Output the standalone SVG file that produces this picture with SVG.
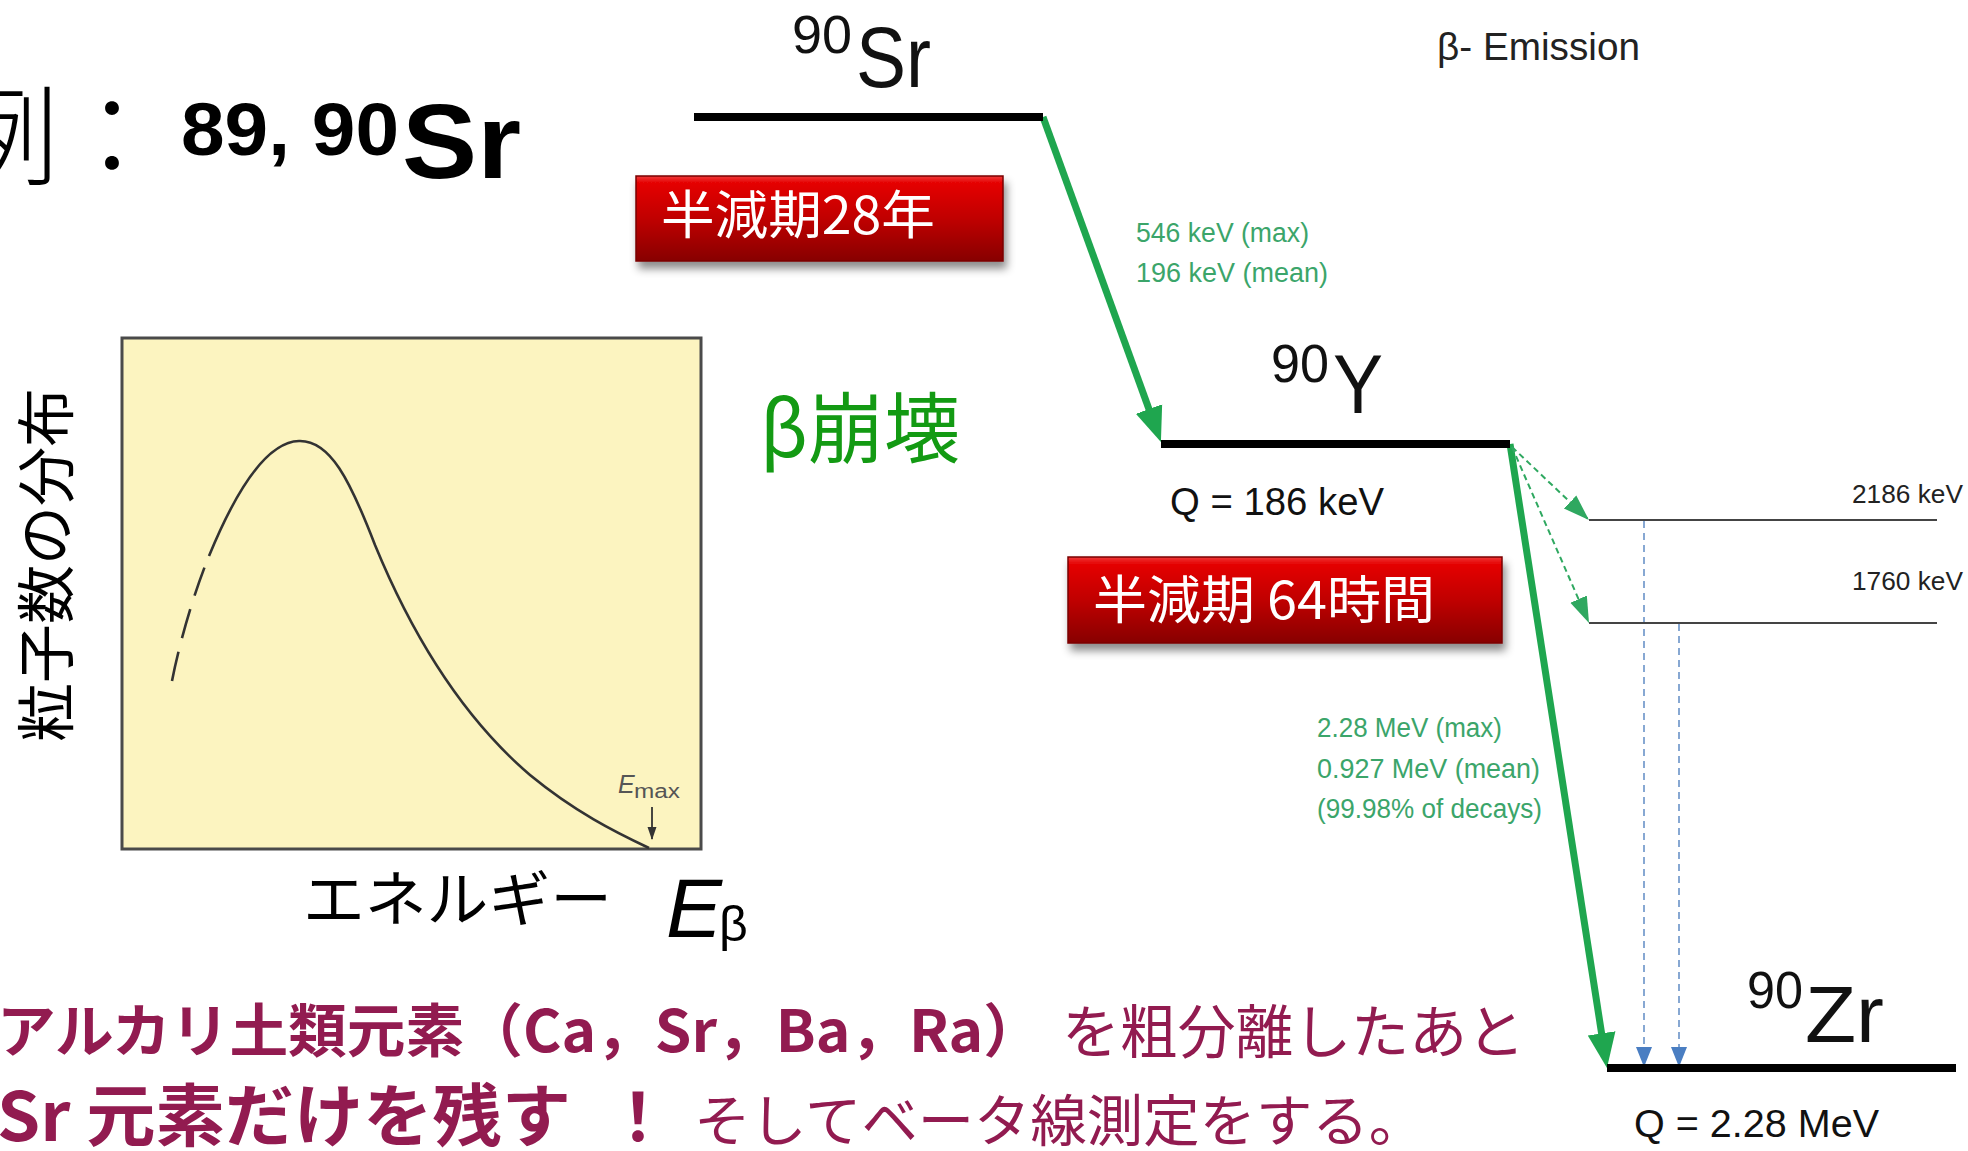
<svg xmlns="http://www.w3.org/2000/svg" width="1968" height="1151" viewBox="0 0 1968 1151">
<defs>
<style>
.cjk{font-family:"Noto Sans CJK JP","Noto Sans",sans-serif;}
.lat{font-family:"Liberation Sans","DejaVu Sans",sans-serif;}
.lvl{stroke:#000;stroke-width:8;fill:none;}
.thin{stroke:#444;stroke-width:2;fill:none;}
.beta{stroke:#1fa64f;stroke-width:7;fill:none;}
.gdash{stroke:#2fa860;stroke-width:2;stroke-dasharray:6 4;fill:none;}
.bdash{stroke:#6a93c8;stroke-width:1.6;stroke-dasharray:7 5;fill:none;}
.glab{fill:#3ba56a;font-size:27px;}
.plum{fill:#921b50;}
.redtxt{fill:#fff;font-size:52px;}
</style>
<linearGradient id="redg" x1="0" y1="0" x2="0" y2="1">
<stop offset="0" stop-color="#f03a3a"/>
<stop offset="0.08" stop-color="#e50404"/>
<stop offset="0.5" stop-color="#c00000"/>
<stop offset="1" stop-color="#870000"/>
</linearGradient>
<filter id="sh" x="-10%" y="-20%" width="125%" height="160%">
<feDropShadow dx="3" dy="7" stdDeviation="4" flood-color="#000" flood-opacity="0.45"/>
</filter>
<marker id="mBig" markerUnits="userSpaceOnUse" markerWidth="40" markerHeight="36" refX="15" refY="16" orient="auto" viewBox="0 0 40 32">
<path d="M0,2 L35,16 L0,30 z" fill="#1fa64f"/>
</marker>
<marker id="mSmallG" markerUnits="userSpaceOnUse" markerWidth="28" markerHeight="20" refX="24" refY="9" orient="auto" viewBox="0 0 28 18">
<path d="M0,0 L26,9 L0,18 z" fill="#2fa860"/>
</marker>
<marker id="mBlue" markerUnits="userSpaceOnUse" markerWidth="22" markerHeight="18" refX="18" refY="8" orient="auto" viewBox="0 0 22 16">
<path d="M0,0 L20,8 L0,16 z" fill="#4a7ec2"/>
</marker>
<marker id="mTiny" markerUnits="userSpaceOnUse" markerWidth="14" markerHeight="10" refX="12" refY="4.5" orient="auto" viewBox="0 0 14 9">
<path d="M0,0 L13,4.5 L0,9 z" fill="#333"/>
</marker>
</defs>
<rect width="1968" height="1151" fill="#fff"/>

<!-- Title -->
<g id="title">
<text class="cjk" x="-50" y="176" font-size="108" font-weight="300" fill="#000">例：</text>
<text class="lat" x="181" y="155" font-size="75" font-weight="bold" fill="#000" textLength="218" lengthAdjust="spacingAndGlyphs">89, 90</text>
<text class="lat" x="402" y="178" font-size="106" font-weight="900" fill="#000" textLength="119" lengthAdjust="spacingAndGlyphs">Sr</text>
</g>

<!-- Spectrum plot -->
<g id="spectrum">
<rect x="122" y="338" width="579" height="511" fill="#fcf4c0" stroke="#4a4a4a" stroke-width="3"/>
<path d="M172,681 C180,640 195,590 209,556" fill="none" stroke="#333" stroke-width="2.6" stroke-dasharray="30 14"/>
<path d="M209,556 C230,505 262,442 299,441 C330,440 350,480 375,545 C410,630 460,715 530,775 C575,812 615,832 649,848" fill="none" stroke="#333" stroke-width="2.6"/>
<text x="618" y="793" font-family="Liberation Sans, sans-serif" font-style="italic" font-size="25" fill="#555">E</text>
<text x="634" y="798" font-family="Liberation Sans, sans-serif" font-size="20" fill="#555" textLength="46" lengthAdjust="spacingAndGlyphs">max</text>
<line x1="652" y1="807" x2="652" y2="839" stroke="#333" stroke-width="1.8" marker-end="url(#mTiny)"/>
</g>

<g id="ylabel">
<text class="cjk" transform="translate(68,742) rotate(-90)" font-size="59" fill="#000" textLength="354" lengthAdjust="spacingAndGlyphs">粒子数の分布</text>
</g>
<g id="xlabel">
<text class="cjk" x="303" y="921" font-size="60" fill="#000" textLength="309" lengthAdjust="spacingAndGlyphs">エネルギー</text>
<text x="666" y="937" font-family="Liberation Sans, sans-serif" font-style="italic" font-size="84" fill="#000">E</text>
<text x="719" y="941" font-family="Liberation Sans, sans-serif" font-size="50" fill="#000">β</text>
</g>

<g id="beta-decay-label">
<text class="cjk" x="760" y="457" font-size="77" fill="#139a13" textLength="200" lengthAdjust="spacingAndGlyphs">β崩壊</text>
</g>

<!-- Connectors -->
<g id="connectors">
<line class="beta" x1="1043" y1="117" x2="1154.1" y2="423.2" marker-end="url(#mBig)"/>
<line class="beta" x1="1510" y1="444" x2="1603.9" y2="1048.2" marker-end="url(#mBig)"/>
<line class="gdash" x1="1512" y1="447" x2="1587.5" y2="518.6" marker-end="url(#mSmallG)"/>
<line class="gdash" x1="1512" y1="447" x2="1588.2" y2="621.2" marker-end="url(#mSmallG)"/>
<line class="bdash" x1="1644" y1="521" x2="1644" y2="1065" marker-end="url(#mBlue)"/>
<line class="bdash" x1="1679" y1="624" x2="1679" y2="1065" marker-end="url(#mBlue)"/>
</g>

<!-- Nodes -->
<g id="sr90">
<line class="lvl" x1="694" y1="117" x2="1043" y2="117"/>
<text class="lat" x="792" y="53" font-size="54" fill="#111" textLength="60" lengthAdjust="spacingAndGlyphs">90</text>
<text class="lat" x="856" y="87" font-size="86" fill="#111" textLength="75" lengthAdjust="spacingAndGlyphs">Sr</text>
</g>
<g id="halflife-sr">
<rect x="636" y="176" width="367" height="85" fill="url(#redg)" stroke="#7a0000" stroke-width="1.5" filter="url(#sh)"/>
<text class="cjk redtxt" x="661" y="234" textLength="274" lengthAdjust="spacingAndGlyphs">半減期28年</text>
</g>
<g id="sr-beta-energy">
<text class="lat glab" x="1136" y="242" textLength="173" lengthAdjust="spacingAndGlyphs">546 keV (max)</text>
<text class="lat glab" x="1136" y="282" textLength="192" lengthAdjust="spacingAndGlyphs">196 keV (mean)</text>
</g>
<g id="emission-title">
<text class="lat" x="1437" y="60" font-size="38" fill="#222" textLength="203" lengthAdjust="spacingAndGlyphs">β- Emission</text>
</g>
<g id="y90">
<line class="lvl" x1="1161" y1="444" x2="1510" y2="444"/>
<text class="lat" x="1271" y="382" font-size="54" fill="#111" textLength="58" lengthAdjust="spacingAndGlyphs">90</text>
<text class="lat" x="1333" y="413" font-size="84" fill="#111" textLength="50" lengthAdjust="spacingAndGlyphs">Y</text>
<text class="lat" x="1170" y="515" font-size="38" fill="#111" textLength="214" lengthAdjust="spacingAndGlyphs">Q = 186 keV</text>
</g>
<g id="halflife-y">
<rect x="1068" y="557" width="434" height="86" fill="url(#redg)" stroke="#7a0000" stroke-width="1.5" filter="url(#sh)"/>
<text class="cjk redtxt" x="1093" y="619" textLength="342" lengthAdjust="spacingAndGlyphs">半減期 64時間</text>
</g>
<g id="zr-excited-2186">
<line class="thin" x1="1589" y1="520" x2="1937" y2="520"/>
<text class="lat" x="1852" y="503" font-size="26" fill="#222" textLength="111" lengthAdjust="spacingAndGlyphs">2186 keV</text>
</g>
<g id="zr-excited-1760">
<line class="thin" x1="1589" y1="623" x2="1937" y2="623"/>
<text class="lat" x="1852" y="590" font-size="26" fill="#222" textLength="111" lengthAdjust="spacingAndGlyphs">1760 keV</text>
</g>
<g id="y-beta-energy">
<text class="lat glab" x="1317" y="737" textLength="185" lengthAdjust="spacingAndGlyphs">2.28 MeV (max)</text>
<text class="lat glab" x="1317" y="778" textLength="223" lengthAdjust="spacingAndGlyphs">0.927 MeV (mean)</text>
<text class="lat glab" x="1317" y="818" textLength="225" lengthAdjust="spacingAndGlyphs">(99.98% of decays)</text>
</g>
<g id="zr90">
<line class="lvl" x1="1607" y1="1068" x2="1956" y2="1068"/>
<text class="lat" x="1747" y="1008" font-size="52" fill="#111" textLength="56" lengthAdjust="spacingAndGlyphs">90</text>
<text class="lat" x="1805" y="1042" font-size="80" fill="#111" textLength="79" lengthAdjust="spacingAndGlyphs">Zr</text>
<text class="lat" x="1634" y="1137" font-size="38" fill="#111" textLength="245" lengthAdjust="spacingAndGlyphs">Q = 2.28 MeV</text>
</g>

<!-- Bottom notes -->
<g id="notes">
<text class="cjk plum" x="-3" y="1052" font-size="58" font-weight="bold" textLength="1045" lengthAdjust="spacingAndGlyphs">アルカリ土類元素（Ca，Sr，Ba，Ra）</text>
<text class="cjk plum" x="1062" y="1053" font-size="58" textLength="463" lengthAdjust="spacingAndGlyphs">を粗分離したあと</text>
<text class="cjk plum" x="-3" y="1141" font-size="68" font-weight="bold" textLength="574" lengthAdjust="spacingAndGlyphs">Sr 元素だけを残す</text>
<text class="cjk plum" x="605" y="1141" font-size="66" font-weight="bold">！</text>
<text class="cjk plum" x="694" y="1141" font-size="56" textLength="731" lengthAdjust="spacingAndGlyphs">そしてベータ線測定をする。</text>
</g>
</svg>
